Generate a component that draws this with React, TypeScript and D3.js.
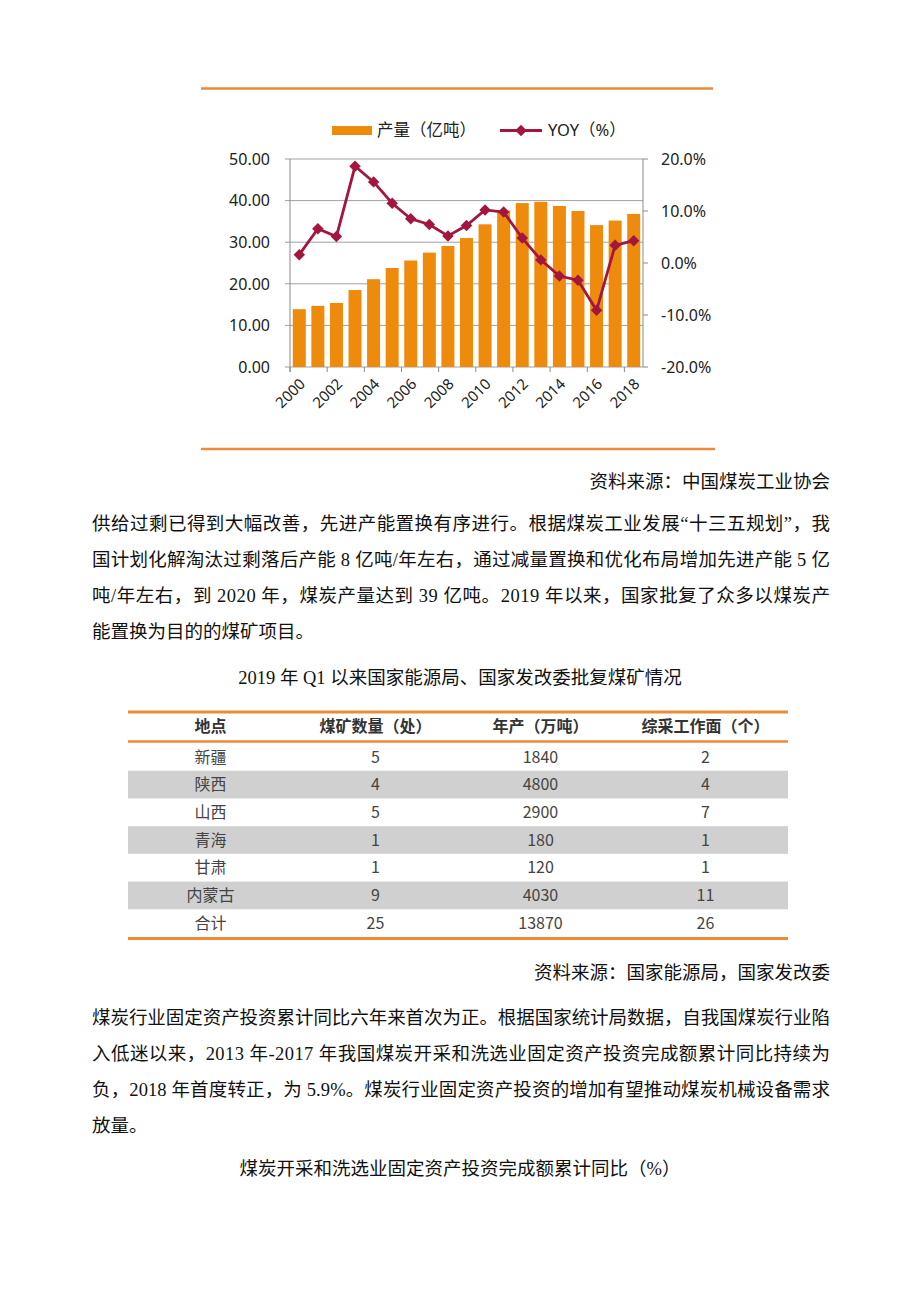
import React from 'react';
import * as d3 from 'd3';

// chart data
const years = ['2000', '2001', '2002', '2003', '2004', '2005', '2006', '2007', '2008', '2009',
  '2010', '2011', '2012', '2013', '2014', '2015', '2016', '2017', '2018'];
const production = [13.9, 14.7, 15.4, 18.5, 21.1, 23.8, 25.6, 27.5, 29.1, 31.0,
  34.3, 37.6, 39.4, 39.7, 38.7, 37.5, 34.1, 35.2, 36.8];
const yoy = [1.6, 6.6, 5.1, 18.6, 15.6, 11.5, 8.5, 7.4, 5.2, 7.2,
  10.2, 9.8, 4.8, 0.6, -2.5, -3.3, -9.1, 3.4, 4.3];
const leftTicks = [0, 10, 20, 30, 40, 50];
const rightTicks = [-20, -10, 0, 10, 20];
const legendLabels = ['产量（亿吨）', 'YOY（%）'];

// table data
const tableTitle = '2019 年 Q1 以来国家能源局、国家发改委批复煤矿情况';
const tableHeader = ['地点', '煤矿数量（处）', '年产（万吨）', '综采工作面（个）'];
const regions = ['新疆', '陕西', '山西', '青海', '甘肃', '内蒙古', '合计'];
const mineCount = [5, 4, 5, 1, 1, 9, 25];
const annualOutput = [1840, 4800, 2900, 180, 120, 4030, 13870];
const workFaces = [2, 4, 7, 1, 1, 11, 26];

// document text
const source1 = '资料来源：中国煤炭工业协会';
const para1 = [
  '供给过剩已得到大幅改善，先进产能置换有序进行。根据煤炭工业发展“十三五规划”，我',
  '国计划化解淘汰过剩落后产能 8 亿吨/年左右，通过减量置换和优化布局增加先进产能 5 亿',
  '吨/年左右，到 2020 年，煤炭产量达到 39 亿吨。2019 年以来，国家批复了众多以煤炭产',
  '能置换为目的的煤矿项目。',
];
const source2 = '资料来源：国家能源局，国家发改委';
const para2 = [
  '煤炭行业固定资产投资累计同比六年来首次为正。根据国家统计局数据，自我国煤炭行业陷',
  '入低迷以来，2013 年-2017 年我国煤炭开采和洗选业固定资产投资完成额累计同比持续为',
  '负，2018 年首度转正，为 5.9%。煤炭行业固定资产投资的增加有望推动煤炭机械设备需求',
  '放量。',
];
const caption2 = '煤炭开采和洗选业固定资产投资完成额累计同比（%）';

const ORANGE = '#EE8A0C';
const RULE = '#EC8A36';
const WINE = '#A3173F';
const bodyFont = '"Liberation Serif", "Noto Sans CJK SC", serif';
const chartFont = '"Noto Sans", "Noto Sans CJK SC", sans-serif';
const tableFont = '"Liberation Sans Narrow", "Noto Sans CJK SC", sans-serif';

function Paragraph({lines, y0, gap}: {lines: string[]; y0: number; gap: number}) {
  return (
    <g fontFamily={bodyFont} fontSize={18.5} fill="#111">
      {lines.map((t, i) => (
        <text key={i} x={92} y={y0 + i * gap} dy="0.36em"
              {...(i < lines.length - 1 ? {textLength: 738, lengthAdjust: 'spacing'} : {})}>
          {t}
        </text>
      ))}
    </g>
  );
}

function Chart() {
  const left = 290, right = 643, top = 159, bottom = 367;
  const x = d3.scaleBand().domain(years).range([left, right]).paddingInner(0.3).paddingOuter(0.15);
  const yL = d3.scaleLinear().domain([0, 50]).range([bottom, top]);
  const yR = d3.scaleLinear().domain([-20, 20]).range([bottom, top]);
  const step = x.step();
  const cx = (d: string) => (x(d) as number) + x.bandwidth() / 2;
  const line = d3.line<number>().x((_, i) => cx(years[i])).y(d => yR(d));
  const diamond = d3.symbol(d3.symbolSquare, 66)();

  return (
    <g fontFamily={chartFont}>
      <line x1={201} x2={713} y1={88.5} y2={88.5} stroke={RULE} strokeWidth={2.5} />
      <line x1={201} x2={715} y1={449} y2={449} stroke={RULE} strokeWidth={2.5} />

      {/* legend */}
      <rect x={332} y={126} width={40} height={9} fill={ORANGE} />
      <text x={377} y={130.5} dy="0.36em" fontSize={16.5} fill="#222">{legendLabels[0]}</text>
      <line x1={500} x2={542} y1={130.5} y2={130.5} stroke={WINE} strokeWidth={2.8} />
      <path d={diamond} transform="translate(521,130.5) rotate(45)" fill={WINE} />
      <text x={548} y={130.5} dy="0.36em" fontSize={16.5} fill="#222">{legendLabels[1]}</text>

      {/* grid */}
      {leftTicks.map(t => (
        <g key={t}>
          <line x1={left - 5} x2={right} y1={yL(t)} y2={yL(t)} stroke="#a0a0a0" strokeWidth={1} />
          <text x={270} y={yL(t)} dy="0.36em" textAnchor="end" fontSize={16} fill="#222">{t.toFixed(2)}</text>
        </g>
      ))}
      {rightTicks.map(t => (
        <g key={t}>
          <line x1={right} x2={right + 5} y1={yR(t)} y2={yR(t)} stroke="#8a8a8a" />
          <text x={661} y={yR(t)} dy="0.36em" fontSize={16} fill="#222">{t.toFixed(1) + '%'}</text>
        </g>
      ))}
      <line x1={left} x2={left} y1={top} y2={bottom + 5} stroke="#8a8a8a" />
      <line x1={right} x2={right} y1={top} y2={bottom} stroke="#8a8a8a" />

      {/* bars */}
      {production.map((v, i) => (
        <rect key={i} x={x(years[i])} y={yL(v)} width={x.bandwidth()} height={bottom - yL(v)} fill={ORANGE} />
      ))}

      {/* x axis */}
      {years.map((yr, i) => i % 2 === 0 ? (
        <g key={yr}>
          <line x1={left + i * step} x2={left + i * step} y1={bottom} y2={bottom + 5} stroke="#8a8a8a" />
          <text transform={`translate(${cx(yr) + 3},${bottom + 14}) rotate(-45)`} dy="0.36em"
                textAnchor="end" fontSize={15} fill="#222">{yr}</text>
        </g>
      ) : null)}

      {/* yoy line */}
      <path d={line(yoy) || ''} fill="none" stroke={WINE} strokeWidth={2.8} />
      {yoy.map((v, i) => (
        <path key={i} d={diamond} transform={`translate(${cx(years[i])},${yR(v)}) rotate(45)`} fill={WINE} />
      ))}
    </g>
  );
}

function Table() {
  const left = 128, right = 788;
  const col = d3.scaleBand().domain(tableHeader).range([left, right]);
  const row = d3.scaleBand().domain(regions).range([743, 937]);
  const cols = [regions, mineCount, annualOutput, workFaces];
  return (
    <g>
      <line x1={left} x2={right} y1={712} y2={712} stroke={RULE} strokeWidth={3} />
      {tableHeader.map(h => (
        <text key={h} x={(col(h) as number) + col.bandwidth() / 2} y={726.5} dy="0.36em"
              textAnchor="middle" fontFamily={chartFont} fontWeight="bold" fontSize={16} fill="#333">{h}</text>
      ))}
      {regions.map((r, i) => i % 2 === 1 ? (
        <rect key={r} x={left} y={row(r)} width={right - left} height={row.bandwidth()} fill="#d0d0d0" />
      ) : null)}
      <line x1={left} x2={right} y1={741.5} y2={741.5} stroke={RULE} strokeWidth={2.5} />
      {regions.map((r, i) => (
        <g key={r}>
          {cols.map((c, j) => (
            <text key={j} x={(col(tableHeader[j]) as number) + col.bandwidth() / 2}
                  y={(row(r) as number) + row.bandwidth() / 2} dy="0.36em" textAnchor="middle"
                  fontFamily={tableFont} fontSize={16} fill="#444">{String(c[i])}</text>
          ))}
        </g>
      ))}
      <line x1={left} x2={right} y1={938.5} y2={938.5} stroke={RULE} strokeWidth={3} />
    </g>
  );
}

export default function App() {
  return (
    <svg width={920} height={1302} style={{position: 'absolute', left: 0, top: 0, background: '#fff'}}>
      <rect width={920} height={1302} fill="#fff" />
      <Chart />
      <text x={830} y={481} dy="0.36em" textAnchor="end" fontFamily={bodyFont} fontSize={18.5} fill="#111">{source1}</text>
      <Paragraph lines={para1} y0={523} gap={36.2} />
      <text x={460} y={677} dy="0.36em" textAnchor="middle" fontFamily={bodyFont} fontSize={18.5} fill="#111">{tableTitle}</text>
      <Table />
      <text x={830} y={972} dy="0.36em" textAnchor="end" fontFamily={bodyFont} fontSize={18.5} fill="#111">{source2}</text>
      <Paragraph lines={para2} y0={1017} gap={36} />
      <text x={460} y={1168} dy="0.36em" textAnchor="middle" fontFamily={bodyFont} fontSize={18.5} fill="#111">{caption2}</text>
    </svg>
  );
}
